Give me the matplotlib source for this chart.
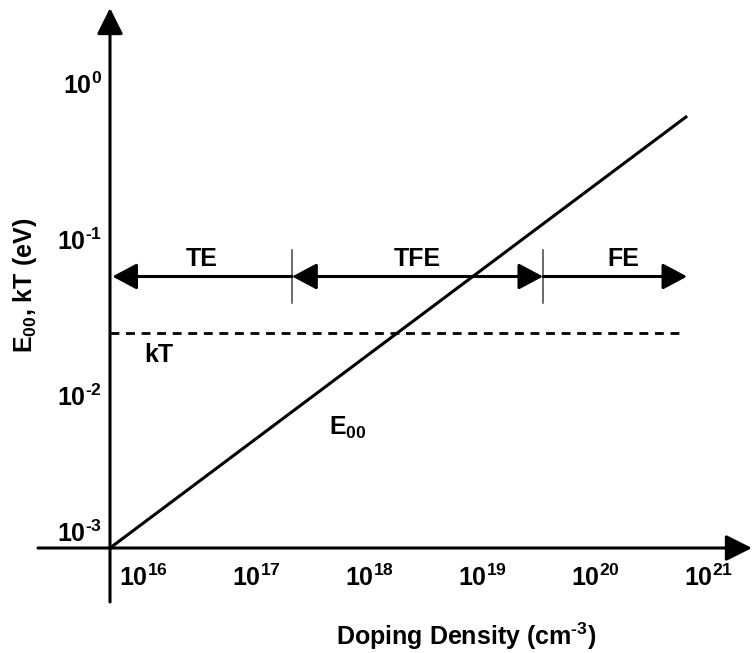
import matplotlib
matplotlib.use("Agg")
import matplotlib.pyplot as plt
from matplotlib.patches import ArrowStyle

plt.rcParams["font.family"] = ["Liberation Sans", "DejaVu Sans"]
plt.rcParams["font.weight"] = "bold"
plt.rcParams["mathtext.fontset"] = "custom"
plt.rcParams["mathtext.rm"] = "Liberation Sans:bold"
plt.rcParams["mathtext.it"] = "Liberation Sans:bold"
plt.rcParams["mathtext.bf"] = "Liberation Sans:bold"

# decade labels on both axes
x_decades = [16, 17, 18, 19, 20, 21]
y_decades = [0, -1, -2, -3]

# E00 ~ sqrt(N): straight line on log-log axes
e00_doping = [1e16, 1.28e21]
e00_energy = [1e-3, 0.587]

# thermal energy at room temperature
kt_doping = [1e16, 1.1e21]
kt_energy = [0.024, 0.024]

# transport regimes: thermionic, thermionic-field, field emission
regime_names = ["TE", "TFE", "FE"]
regime_edges = [1.05e16, 4.1e17, 6.8e19, 1.28e21]
regime_label_x = [6.5e16, 5.2e18, 3.5e20]
regime_level = 0.055

# layout: pixels per decade and origin location
PX_X, PX_Y = 113.0, 156.0
OX, OY = 110.0, 548.0
W, H = 753, 653


def xval(px):
    return 10 ** (16 + (px - OX) / PX_X)


def yval(py):
    return 10 ** (-3 + (OY - py) / PX_Y)


fig = plt.figure(figsize=(W / 100, H / 100), dpi=100)
ax = fig.add_axes([0, 0, 1, 1])
ax.set_xscale("log")
ax.set_yscale("log")
ax.set_xlim(xval(0), xval(W))
ax.set_ylim(yval(H), yval(0))
ax.axis("off")

FS = 18


def arrow(tip, tail, style="-|>", hl=1.5, hw=0.8, lw=2.2):
    ax.annotate(
        "", xy=tip, xytext=tail,
        arrowprops=dict(
            arrowstyle=ArrowStyle(style, head_length=hl, head_width=hw),
            lw=lw, color="black", shrinkA=0, shrinkB=0, mutation_scale=10,
        ),
    )


# axes with arrow heads
arrow((xval(W - 1), 1e-3), (xval(38), 1e-3), hl=1.6, hw=0.8)
arrow((1e16, yval(8)), (1e16, yval(602)), hl=1.6, hw=0.8)

# E00 line and kT level
ax.plot(e00_doping, e00_energy, color="black", lw=2.2, solid_capstyle="butt")
ax.plot(kt_doping, kt_energy, color="black", lw=2.0, dashes=(3.2, 2.4))

# regime arrows
arrow((regime_edges[0], regime_level), (regime_edges[1], regime_level))
arrow((regime_edges[2], regime_level), (regime_edges[1], regime_level), style="<|-|>")
arrow((regime_edges[3], regime_level), (regime_edges[2], regime_level))
for edge in regime_edges[1:3]:
    ax.plot([edge, edge], [yval(303), yval(250)], color="#444444", lw=1.1)
for name, lx in zip(regime_names, regime_label_x):
    ax.annotate(name, xy=(lx, regime_level), xytext=(0, 7.5),
                textcoords="offset points", ha="center", va="baseline",
                fontsize=FS, fontweight="bold")

# tick labels
for d in x_decades:
    ax.annotate(f"$10^{{{d}}}$", xy=(10.0 ** d, 1e-3), xytext=(24, -12),
                textcoords="offset points", ha="center", va="top", fontsize=FS)
for d in y_decades:
    label = f"$10^{{\\text{{-}}{-d}}}$" if d < 0 else f"$10^{{{d}}}$"
    if d == -3:
        ax.annotate(label, xy=(1e16, 10.0 ** d), xytext=(-6, 1),
                    textcoords="offset points", ha="right", va="bottom", fontsize=FS)
    else:
        ax.annotate(label, xy=(1e16, 10.0 ** d), xytext=(-6, -4),
                    textcoords="offset points", ha="right", va="center", fontsize=FS)

# curve labels
ax.text(2.7e16, yval(362), "kT", ha="center", va="baseline", fontsize=FS, fontweight="bold")
ax.text(8.7e17, yval(435), "$E_{00}$", ha="left", va="baseline", fontsize=FS)

# axis titles
ax.text(466 / W, 1 - 636 / H, "Doping Density (cm$^{\\text{-}3}$)", transform=ax.transAxes,
        ha="center", va="center", fontsize=FS, fontweight="bold")
ax.text(25 / W, 1 - 285 / H, "E$_{00}$, kT (eV)", transform=ax.transAxes,
        ha="center", va="center", rotation=90, fontsize=FS, fontweight="bold")

fig.savefig("out.png", dpi=100)
